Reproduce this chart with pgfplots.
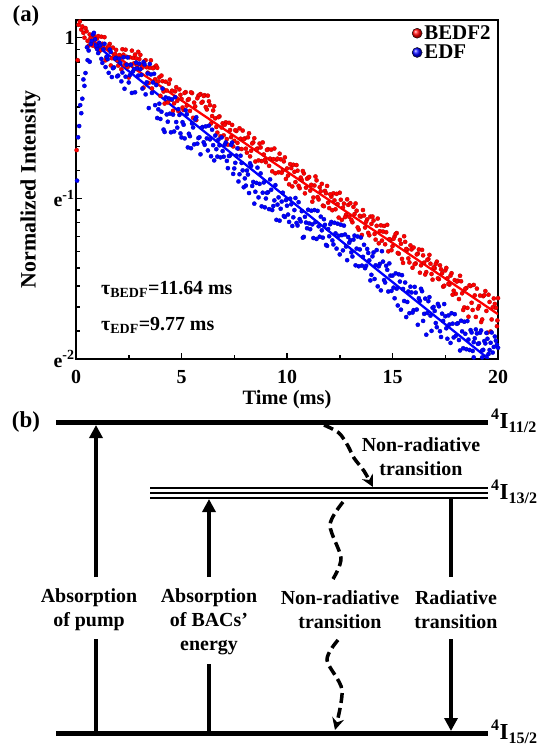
\documentclass[border=0pt]{standalone}
\usepackage{fontspec}
\setmainfont{Liberation Serif}
\usepackage{pgfplots}
\pgfplotsset{compat=1.18}
\usetikzlibrary{arrows.meta}
\newcommand{\F}{\fontsize{20}{23}\selectfont\bfseries}
\begin{document}
\begin{tikzpicture}
\useasboundingbox (0bp,0bp) rectangle (543bp,-749bp);
% ---------------- panel (a) ----------------
\begin{axis}[
  at={(76bp,-359bp)}, anchor=south west, scale only axis,
  width=422bp, height=339bp,
  xmin=0, xmax=20, ymin=-2, ymax=0.11,
  axis line style={line width=2bp},
  xtick={0,5,10,15,20}, minor xtick={2.5,7.5,12.5,17.5},
  ytick={-2,-1,0}, yticklabels={e\textsuperscript{-2},e\textsuperscript{-1},1},
  minor ytick={-1.8252,-1.6765,-1.5471,-1.4325,-1.3297,-1.2365,-1.1512,-1.0727,
               -0.8253,-0.6766,-0.5472,-0.4326,-0.3298,-0.2366,-0.1514,-0.0728},
  xtick pos=bottom, ytick pos=left, tick align=inside,
  major tick length=6bp, minor tick length=3.5bp,
  tick style={black, line width=1.5bp},
  tick label style={font=\F},
  /pgf/number format/assume math mode=true,
  xticklabel style={yshift=-8bp},
  yticklabel style={xshift=2bp},
  xlabel={Time (ms)}, ylabel={Normalized Intensity},
  xlabel style={font=\fontsize{20.5}{23}\selectfont\bfseries, at={(axis description cs:0.5,-0.12)}, anchor=center},
  ylabel style={font=\fontsize{22}{24}\selectfont\bfseries, at={(axis description cs:-0.108,0.5)}, anchor=center},
  legend style={at={(rel axis cs:0.99,0.993)}, anchor=north east, draw=none, fill=none,
    font=\fontsize{21}{23}\selectfont\bfseries, row sep=0bp, inner sep=1bp},
  legend cell align=left,
  legend image code/.code={\draw[mark=ball, mark size=5bp, #1] plot coordinates {(0bp,0bp)};},
  rdot/.style={only marks, mark=*, mark size=2.1bp, mark options={fill=red, draw=red!70!black, line width=0.3bp}},
  bdot/.style={only marks, mark=*, mark size=2.1bp, mark options={fill=blue, draw=blue!70!black, line width=0.3bp}},
]
\addplot[only marks, mark=ball, mark options={ball color=red}] coordinates {(-5,-5)};
\addlegendentry{BEDF2}
\addplot[only marks, mark=ball, mark options={ball color=blue}] coordinates {(-5,-5)};
\addlegendentry{EDF}
% BEDF2 data
\addplot[rdot, forget plot] coordinates {
(0.03,-0.70) (0.08,-0.14) (0.12,0.08) (0.18,0.10) (0.25,0.05)
(0.3,0.07) (0.4,0.00) (0.5,0.04) (0.6,-0.05) (0.7,0.00) (0.8,-0.05) (0.9,-0.01)
(1.0,-0.006) (1.1,-0.085) (1.2,0.006) (1.3,-0.063) (1.4,-0.141) (1.5,-0.060) (1.6,-0.039) (1.7,-0.128) (1.8,-0.117) (1.9,-0.076)
(2.0,-0.174) (2.1,-0.113) (2.2,-0.072) (2.3,-0.171) (2.4,-0.119) (2.5,-0.248) (2.6,-0.167) (2.7,-0.126) (2.8,-0.105) (2.9,-0.174)
(3.0,-0.133) (3.1,-0.172) (3.2,-0.311) (3.3,-0.140) (3.4,-0.218) (3.5,-0.187) (3.6,-0.316) (3.7,-0.185) (3.8,-0.174) (3.9,-0.273)
(4.0,-0.362) (4.1,-0.271) (4.2,-0.410) (4.3,-0.329) (4.4,-0.287) (4.5,-0.386) (4.6,-0.455) (4.7,-0.334) (4.8,-0.393) (4.9,-0.322)
(5.0,-0.381) (5.1,-0.450) (5.2,-0.339) (5.3,-0.388) (5.4,-0.456) (5.5,-0.345) (5.6,-0.404) (5.7,-0.513) (5.8,-0.362) (5.9,-0.351)
(6.0,-0.399) (6.1,-0.358) (6.2,-0.447) (6.3,-0.396) (6.4,-0.534) (6.5,-0.453) (6.6,-0.502) (6.7,-0.591) (6.8,-0.490) (6.9,-0.559)
(7.0,-0.608) (7.1,-0.527) (7.2,-0.666) (7.3,-0.575) (7.4,-0.543) (7.5,-0.642) (7.6,-0.581) (7.7,-0.690) (7.8,-0.629) (7.9,-0.578)
(8.0,-0.627) (8.1,-0.716) (8.2,-0.595) (8.3,-0.704) (8.4,-0.652) (8.5,-0.771) (8.6,-0.690) (8.7,-0.659) (8.8,-0.768) (8.9,-0.727)
(9.0,-0.775) (9.1,-0.694) (9.2,-0.753) (9.3,-0.832) (9.4,-0.690) (9.5,-0.759) (9.6,-0.838) (9.7,-0.757) (9.8,-0.826) (9.9,-0.745)
(10.0,-0.814) (10.1,-0.913) (10.2,-0.812) (10.3,-0.791) (10.4,-0.899) (10.5,-0.828) (10.6,-0.937) (10.7,-0.886) (10.8,-0.845) (10.9,-0.934)
(11.0,-0.873) (11.1,-0.952) (11.2,-1.021) (11.3,-0.920) (11.4,-0.888) (11.5,-1.007) (11.6,-0.956) (11.7,-1.045) (11.8,-0.954) (11.9,-0.923)
(12.0,-1.061) (12.1,-0.990) (12.2,-0.969) (12.3,-1.068) (12.4,-1.036) (12.5,-0.965) (12.6,-1.134) (12.7,-1.033) (12.8,-1.102) (12.9,-1.041)
(13.0,-1.030) (13.1,-1.149) (13.2,-1.098) (13.3,-1.077) (13.4,-1.195) (13.5,-1.114) (13.6,-1.073) (13.7,-1.182) (13.8,-1.131) (13.9,-1.230)
(14.0,-1.159) (14.1,-1.138) (14.2,-1.257) (14.3,-1.126) (14.4,-1.204) (14.5,-1.263) (14.6,-1.172) (14.7,-1.211) (14.8,-1.330) (14.9,-1.259)
(15.0,-1.298) (15.1,-1.237) (15.2,-1.216) (15.3,-1.345) (15.4,-1.283) (15.5,-1.402) (15.6,-1.271) (15.7,-1.320) (15.8,-1.399) (15.9,-1.318)
(16.0,-1.306) (16.1,-1.405) (16.2,-1.344) (16.3,-1.463) (16.4,-1.321) (16.5,-1.400) (16.6,-1.459) (16.7,-1.378) (16.8,-1.407) (16.9,-1.506)
(17.0,-1.435) (17.1,-1.394) (17.2,-1.503) (17.3,-1.442) (17.4,-1.550) (17.5,-1.449) (17.6,-1.498) (17.7,-1.537) (17.8,-1.466) (17.9,-1.575)
(18.0,-1.594) (18.1,-1.513) (18.2,-1.482) (18.3,-1.591) (18.4,-1.679) (18.5,-1.558) (18.6,-1.737) (18.7,-1.546) (18.8,-1.695) (18.9,-1.604)
(19.0,-1.562) (19.1,-1.671) (19.2,-1.770) (19.3,-1.609) (19.4,-1.577) (19.5,-1.836) (19.6,-1.645) (19.7,-1.754) (19.8,-1.623) (19.9,-1.682)
(20.0,-1.621) (19.97,-1.76)
};
\addplot[rdot, forget plot] coordinates {
(0.35,0.03) (0.45,0.06) (0.55,-0.02) (0.65,0.02) (0.75,-0.03) (0.85,0.01) (0.95,-0.06)
(1.05,0.010) (1.15,-0.079) (1.25,-0.038) (1.35,0.003) (1.45,-0.125) (1.55,-0.054) (1.65,-0.173) (1.75,-0.062) (1.85,-0.101) (1.95,-0.140)
(2.05,-0.108) (2.15,-0.197) (2.25,-0.106) (2.35,-0.075) (2.45,-0.183) (2.55,-0.122) (2.65,-0.081) (2.75,-0.160) (2.85,-0.129) (2.95,-0.088)
(3.05,-0.107) (3.15,-0.186) (3.25,-0.145) (3.35,-0.184) (3.45,-0.282) (3.55,-0.141) (3.65,-0.190) (3.75,-0.259) (3.85,-0.188) (3.95,-0.247)
(4.05,-0.236) (4.15,-0.335) (4.25,-0.274) (4.35,-0.403) (4.45,-0.261) (4.55,-0.330) (4.65,-0.409) (4.75,-0.308) (4.85,-0.457) (4.95,-0.356)
(5.05,-0.435) (5.15,-0.344) (5.25,-0.423) (5.35,-0.382) (5.45,-0.340) (5.55,-0.499) (5.65,-0.428) (5.75,-0.377) (5.85,-0.356) (5.95,-0.405)
(6.05,-0.363) (6.15,-0.432) (6.25,-0.361) (6.35,-0.420) (6.45,-0.488) (6.55,-0.427) (6.65,-0.556) (6.75,-0.495) (6.85,-0.614) (6.95,-0.533)
(7.05,-0.542) (7.15,-0.631) (7.25,-0.530) (7.35,-0.619) (7.45,-0.677) (7.55,-0.576) (7.65,-0.655) (7.75,-0.564) (7.85,-0.693) (7.95,-0.632)
(8.05,-0.691) (8.15,-0.620) (8.25,-0.739) (8.35,-0.658) (8.45,-0.626) (8.55,-0.695) (8.65,-0.764) (8.75,-0.683) (8.85,-0.652) (8.95,-0.761)
(9.05,-0.699) (9.15,-0.798) (9.25,-0.697) (9.35,-0.756) (9.45,-0.844) (9.55,-0.753) (9.65,-0.722) (9.75,-0.841) (9.85,-0.770) (9.95,-0.879)
(10.05,-0.858) (10.15,-0.787) (10.25,-0.926) (10.35,-0.835) (10.45,-0.793) (10.55,-0.922) (10.65,-0.871) (10.75,-0.830) (10.85,-0.969) (10.95,-0.878)
(11.05,-0.867) (11.15,-0.916) (11.25,-0.995) (11.35,-0.864) (11.45,-0.992) (11.55,-0.931) (11.65,-0.910) (11.75,-1.049) (11.85,-0.968) (11.95,-1.027)
(12.05,-0.975) (12.15,-1.074) (12.25,-1.013) (12.35,-0.972) (12.45,-1.120) (12.55,-1.009) (12.65,-1.058) (12.75,-1.117) (12.85,-1.006) (12.95,-1.115)
(13.05,-1.134) (13.15,-1.053) (13.25,-1.032) (13.35,-1.181) (13.45,-1.109) (13.55,-1.228) (13.65,-1.107) (13.75,-1.146) (13.85,-1.215) (13.95,-1.114)
(14.05,-1.113) (14.15,-1.222) (14.25,-1.171) (14.35,-1.280) (14.45,-1.168) (14.55,-1.207) (14.65,-1.286) (14.75,-1.165) (14.85,-1.254) (14.95,-1.323)
(15.05,-1.252) (15.15,-1.221) (15.25,-1.340) (15.35,-1.259) (15.45,-1.377) (15.55,-1.236) (15.65,-1.315) (15.75,-1.374) (15.85,-1.293) (15.95,-1.432)
(16.05,-1.410) (16.15,-1.349) (16.25,-1.318) (16.35,-1.417) (16.45,-1.355) (16.55,-1.474) (16.65,-1.383) (16.75,-1.352) (16.85,-1.471) (16.95,-1.430)
(17.05,-1.409) (17.15,-1.498) (17.25,-1.417) (17.35,-1.466) (17.45,-1.544) (17.55,-1.433) (17.65,-1.532) (17.75,-1.481) (17.85,-1.600) (17.95,-1.509)
(18.05,-1.518) (18.15,-1.627) (18.25,-1.516) (18.35,-1.695) (18.45,-1.563) (18.55,-1.682) (18.65,-1.541) (18.75,-1.650) (18.85,-1.539) (18.95,-1.738)
(19.05,-1.686) (19.15,-1.605) (19.25,-1.754) (19.35,-1.603) (19.45,-1.701) (19.55,-1.600) (19.65,-1.829) (19.75,-1.678) (19.85,-1.657) (19.95,-1.796)
};
% EDF data
\addplot[bdot, forget plot] coordinates {
(0.05,-0.89) (0.1,-0.62) (0.15,-0.55) (0.2,-0.42) (0.25,-0.47) (0.3,-0.38) (0.35,-0.26) (0.45,-0.22) (0.52,-0.06) (0.55,-0.14) (0.65,-0.15) (0.7,-0.04) (0.8,0.02) (0.9,-0.01)
(1.0,-0.071) (1.1,-0.032) (1.2,-0.132) (1.3,-0.073) (1.4,-0.183) (1.5,-0.134) (1.6,-0.074) (1.7,-0.245) (1.8,-0.185) (1.9,-0.126)
(2.0,-0.236) (2.1,-0.157) (2.2,-0.217) (2.3,-0.318) (2.4,-0.168) (2.5,-0.279) (2.6,-0.169) (2.7,-0.210) (2.8,-0.340) (2.9,-0.191)
(3.0,-0.161) (3.1,-0.232) (3.2,-0.152) (3.3,-0.353) (3.4,-0.223) (3.5,-0.164) (3.6,-0.344) (3.7,-0.225) (3.8,-0.295) (3.9,-0.446)
(4.0,-0.506) (4.1,-0.317) (4.2,-0.587) (4.3,-0.478) (4.4,-0.378) (4.5,-0.589) (4.6,-0.479) (4.7,-0.370) (4.8,-0.560) (4.9,-0.481)
(5.0,-0.621) (5.1,-0.542) (5.2,-0.452) (5.3,-0.683) (5.4,-0.613) (5.5,-0.534) (5.6,-0.664) (5.7,-0.495) (5.8,-0.625) (5.9,-0.726)
(6.0,-0.556) (6.1,-0.667) (6.2,-0.627) (6.3,-0.548) (6.4,-0.738) (6.5,-0.669) (6.6,-0.609) (6.7,-0.740) (6.8,-0.670) (6.9,-0.621)
(7.0,-0.741) (7.1,-0.652) (7.2,-0.812) (7.3,-0.733) (7.4,-0.653) (7.5,-0.814) (7.6,-0.734) (7.7,-0.895) (7.8,-0.735) (7.9,-0.826)
(8.0,-0.876) (8.1,-0.827) (8.2,-0.967) (8.3,-0.798) (8.4,-0.898) (8.5,-0.959) (8.6,-0.809) (8.7,-0.910) (8.8,-1.050) (8.9,-0.901)
(9.0,-1.001) (9.1,-0.962) (9.2,-0.882) (9.3,-1.073) (9.4,-1.013) (9.5,-1.134) (9.6,-0.994) (9.7,-1.065) (9.8,-0.965) (9.9,-1.116)
(10.0,-1.046) (10.1,-1.147) (10.2,-1.037) (10.3,-1.118) (10.4,-0.998) (10.5,-1.169) (10.6,-1.129) (10.7,-1.080) (10.8,-1.240) (10.9,-1.151)
(11.0,-1.071) (11.1,-1.192) (11.2,-1.162) (11.3,-1.073) (11.4,-1.253) (11.5,-1.174) (11.6,-1.114) (11.7,-1.245) (11.8,-1.165) (11.9,-1.296)
(12.0,-1.236) (12.1,-1.147) (12.2,-1.287) (12.3,-1.218) (12.4,-1.158) (12.5,-1.349) (12.6,-1.229) (12.7,-1.170) (12.8,-1.300) (12.9,-1.241)
(13.0,-1.261) (13.1,-1.362) (13.2,-1.232) (13.3,-1.313) (13.4,-1.423) (13.5,-1.244) (13.6,-1.364) (13.7,-1.435) (13.8,-1.315) (13.9,-1.386)
(14.0,-1.476) (14.1,-1.337) (14.2,-1.417) (14.3,-1.548) (14.4,-1.408) (14.5,-1.329) (14.6,-1.509) (14.7,-1.420) (14.8,-1.580) (14.9,-1.481)
(15.0,-1.481) (15.1,-1.622) (15.2,-1.562) (15.3,-1.473) (15.4,-1.693) (15.5,-1.564) (15.6,-1.524) (15.7,-1.645) (15.8,-1.715) (15.9,-1.586)
(16.0,-1.696) (16.1,-1.587) (16.2,-1.787) (16.3,-1.638) (16.4,-1.578) (16.5,-1.719) (16.6,-1.849) (16.7,-1.640) (16.8,-1.730) (16.9,-1.681)
(17.0,-1.701) (17.1,-1.802) (17.2,-1.672) (17.3,-1.863) (17.4,-1.763) (17.5,-1.734) (17.6,-1.874) (17.7,-1.785) (17.8,-1.715) (17.9,-1.866)
(18.0,-1.856) (18.1,-1.777) (18.2,-1.947) (18.3,-1.828) (18.4,-1.768) (18.5,-1.939) (18.6,-1.879) (18.7,-1.820) (18.8,-1.950) (18.9,-1.871)
(19.0,-1.841) (19.1,-1.902) (19.2,-1.822) (19.3,-1.943) (19.4,-1.903) (19.5,-1.874) (19.6,-1.944) (19.7,-1.835) (19.8,-1.925) (19.9,-1.886)
(20.0,-1.93) (18.85,-1.99) (19.25,-1.99) (19.45,-1.985)
};
\addplot[bdot, forget plot] coordinates {
(0.4,-0.30) (0.6,-0.08) (0.75,-0.02) (0.85,0.03) (0.95,-0.05)
(1.05,-0.096) (1.15,-0.047) (1.25,-0.157) (1.35,-0.038) (1.45,-0.118) (1.55,-0.219) (1.65,-0.089) (1.75,-0.190) (1.85,-0.130) (1.95,-0.241)
(2.05,-0.131) (2.15,-0.272) (2.25,-0.122) (2.35,-0.243) (2.45,-0.123) (2.55,-0.234) (2.65,-0.344) (2.75,-0.195) (2.85,-0.155) (2.95,-0.236)
(3.05,-0.196) (3.15,-0.317) (3.25,-0.167) (3.35,-0.278) (3.45,-0.438) (3.55,-0.229) (3.65,-0.279) (3.75,-0.420) (3.85,-0.500) (3.95,-0.411)
(4.05,-0.461) (4.15,-0.572) (4.25,-0.372) (4.35,-0.523) (4.45,-0.473) (4.55,-0.384) (4.65,-0.584) (4.75,-0.525) (4.85,-0.445) (4.95,-0.596)
(5.05,-0.526) (5.15,-0.627) (5.25,-0.477) (5.35,-0.598) (5.45,-0.688) (5.55,-0.559) (5.65,-0.509) (5.75,-0.660) (5.85,-0.620) (5.95,-0.561)
(6.05,-0.651) (6.15,-0.552) (6.25,-0.702) (6.35,-0.633) (6.45,-0.573) (6.55,-0.764) (6.65,-0.694) (6.75,-0.635) (6.85,-0.745) (6.95,-0.706)
(7.05,-0.666) (7.15,-0.767) (7.25,-0.737) (7.35,-0.668) (7.45,-0.848) (7.55,-0.779) (7.65,-0.689) (7.75,-0.850) (7.85,-0.780) (7.95,-0.931)
(8.05,-0.921) (8.15,-0.852) (8.25,-0.782) (8.35,-0.923) (8.45,-1.033) (8.55,-0.904) (8.65,-0.994) (8.75,-0.845) (8.85,-0.965) (8.95,-1.056)
(9.05,-0.966) (9.15,-1.067) (9.25,-0.947) (9.35,-1.048) (9.45,-0.918) (9.55,-1.039) (9.65,-1.139) (9.75,-1.020) (9.85,-1.110) (9.95,-1.011)
(10.05,-1.101) (10.15,-1.002) (10.25,-1.172) (10.35,-1.073) (10.45,-1.153) (10.55,-1.024) (10.65,-1.144) (10.75,-1.245) (10.85,-1.115) (10.95,-1.186)
(11.05,-1.156) (11.15,-1.077) (11.25,-1.247) (11.35,-1.148) (11.45,-1.078) (11.55,-1.239) (11.65,-1.199) (11.75,-1.130) (11.85,-1.290) (11.95,-1.191)
(12.05,-1.161) (12.15,-1.262) (12.25,-1.152) (12.35,-1.313) (12.45,-1.233) (12.55,-1.164) (12.65,-1.324) (12.75,-1.225) (12.85,-1.385) (12.95,-1.276)
(13.05,-1.336) (13.15,-1.257) (13.25,-1.417) (13.35,-1.238) (13.45,-1.318) (13.55,-1.419) (13.65,-1.289) (13.75,-1.420) (13.85,-1.340) (13.95,-1.511)
(14.05,-1.361) (14.15,-1.502) (14.25,-1.322) (14.35,-1.423) (14.45,-1.573) (14.55,-1.394) (14.65,-1.524) (14.75,-1.445) (14.85,-1.405) (14.95,-1.576)
(15.05,-1.556) (15.15,-1.467) (15.25,-1.667) (15.35,-1.518) (15.45,-1.478) (15.55,-1.639) (15.65,-1.739) (15.75,-1.580) (15.85,-1.550) (15.95,-1.711)
(16.05,-1.551) (16.15,-1.692) (16.25,-1.622) (16.35,-1.563) (16.45,-1.763) (16.55,-1.624) (16.65,-1.714) (16.75,-1.615) (16.85,-1.825) (16.95,-1.676)
(17.05,-1.776) (17.15,-1.657) (17.25,-1.827) (17.35,-1.718) (17.45,-1.658) (17.55,-1.809) (17.65,-1.729) (17.75,-1.900) (17.85,-1.780) (17.95,-1.721)
(18.05,-1.781) (18.15,-1.882) (18.25,-1.762) (18.35,-1.933) (18.45,-1.843) (18.55,-1.764) (18.65,-1.944) (18.75,-1.835) (18.85,-1.895) (18.95,-1.816)
(19.05,-1.906) (19.15,-1.837) (19.25,-1.947) (19.35,-1.888) (19.45,-1.838) (19.55,-1.969) (19.65,-1.899) (19.75,-1.960) (19.85,-1.860) (19.95,-1.911)
};
\addplot[red, line width=2.3bp, forget plot] coordinates {(0.6,0.0) (20,-1.721)};
\addplot[blue, line width=2.3bp, forget plot] coordinates {(0.8,-0.03) (19.56,-2.0)};
\end{axis}
% ---------------- annotations and panel (b) ----------------
\begin{axis}[
  at={(0bp,-749bp)}, anchor=south west, scale only axis,
  width=543bp, height=749bp,
  xmin=0, xmax=543, ymin=-749, ymax=0,
  hide axis, clip=false,
]
% labels of panel (a)
\node[font=\fontsize{23}{25}\selectfont\bfseries] at (axis cs:26,-16) {(a)};
\node[font=\F, anchor=base west, inner sep=0] at (axis cs:101,-294) {τ\textsubscript{BEDF}=11.64 ms};
\node[font=\F, anchor=base west, inner sep=0] at (axis cs:101,-330) {τ\textsubscript{EDF}=9.77 ms};
\node[font=\fontsize{23}{25}\selectfont\bfseries] at (axis cs:26,-422) {(b)};
% energy levels
\addplot[black, line width=5bp] coordinates {(56,-422) (488,-422)};
\addplot[black, line width=1.7bp] coordinates {(150,-488) (488,-488)};
\addplot[black, line width=1.7bp] coordinates {(150,-493) (488,-493)};
\addplot[black, line width=1.7bp] coordinates {(150,-498) (488,-498)};
\addplot[black, line width=5bp] coordinates {(56,-733) (488,-733)};
\node[font=\fontsize{23}{25}\selectfont\bfseries, anchor=west, inner sep=0] at (axis cs:491,-421) {\textsuperscript{4}I\textsubscript{11/2}};
\node[font=\fontsize{23}{25}\selectfont\bfseries, anchor=west, inner sep=0] at (axis cs:491,-492) {\textsuperscript{4}I\textsubscript{13/2}};
\node[font=\fontsize{23}{25}\selectfont\bfseries, anchor=west, inner sep=0] at (axis cs:491,-732) {\textsuperscript{4}I\textsubscript{15/2}};
% absorption of pump
\addplot[black, line width=3.5bp, -{Triangle[length=13bp,width=13bp]}] coordinates {(96,-577) (96,-425)};
\addplot[black, line width=3.5bp] coordinates {(96,-639) (96,-731)};
% absorption of BACs energy
\addplot[black, line width=3.5bp, -{Triangle[length=13bp,width=13bp]}] coordinates {(209,-577) (209,-499)};
\addplot[black, line width=3.5bp] coordinates {(209,-664) (209,-731)};
% radiative
\addplot[black, line width=3.5bp] coordinates {(451,-499) (451,-577)};
\addplot[black, line width=3.5bp, -{Triangle[length=13bp,width=13bp]}] coordinates {(451,-639) (451,-731)};
% non-radiative (wavy)
\addplot[black, line width=3.5bp, dash pattern=on 10bp off 5bp, smooth] coordinates {(343,-502) (330,-525) (341,-558) (333,-579)};
\addplot[black, line width=3.5bp, dash pattern=on 10bp off 5bp, smooth, -{Stealth[length=12bp,width=12bp,inset=4bp]}] coordinates {(338,-640) (327,-660) (342,-690) (335,-730)};
% non-radiative between upper levels
\addplot[black, line width=3.5bp, dash pattern=on 10bp off 5bp, smooth, -{Stealth[length=12bp,width=12bp,inset=4bp]}] coordinates {(324,-425) (339,-433) (348,-446) (354,-458) (364,-471) (373,-487)};
% texts
\node[font=\F, align=center, inner sep=0] at (axis cs:89,-610) {Absorption\\[1bp]of pump};
\node[font=\F, align=center, inner sep=0] at (axis cs:209,-622) {Absorption\\[1bp]of BACs’\\[1bp]energy};
\node[font=\F, align=center, inner sep=0] at (axis cs:340,-610) {Non-radiative\\[1bp]transition};
\node[font=\F, align=center, inner sep=0] at (axis cs:456,-610) {Radiative\\[1bp]transition};
\node[font=\F, align=center, inner sep=0] at (axis cs:421,-457) {Non-radiative\\[1bp]transition};
\end{axis}
\end{tikzpicture}
\end{document}
